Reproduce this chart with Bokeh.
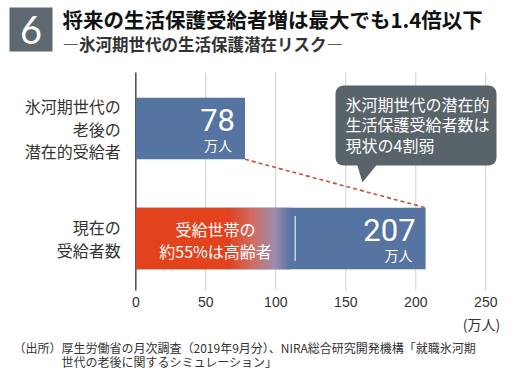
from bokeh.plotting import figure
from bokeh.models import (Range1d, FixedTicker, Label,
                          BoxAnnotation, PolyAnnotation, ColumnDataSource)
from bokeh.core.properties import value
from bokeh.embed import file_html
from bokeh.resources import INLINE

# ---------------- data ----------------
categories = ["氷河期世代の老後の潜在的受給者", "現在の受給者数"]
category_lines = [["氷河期世代の", "老後の", "潜在的受給者"], ["現在の", "受給者数"]]
values = [78, 207]                       # 万人
elderly_share = 0.55                     # 受給世帯の約55%は高齢者
elderly_lines = ["受給世帯の", "約55%は高齢者"]
x_ticks = [0, 50, 100, 150, 200, 250]
unit_label = "万人"
title_number = "6"
title = "将来の生活保護受給者増は最大でも1.4倍以下"
subtitle = "―氷河期世代の生活保護潜在リスク―"
callout_lines = ["氷河期世代の潜在的", "生活保護受給者数は", "現状の4割弱"]
source_head = "（出所）"
source_lines = ["厚生労働省の月次調査（2019年9月分）、NIRA総合研究開発機構「就職氷河期",
                "世代の老後に関するシミュレーション」"]

# ---------------- layout / style ----------------
BLUE = "#5574a2"
GRAY_BOX = "#5e6870"
CALLOUT = "#59636a"
TEXT = "#333333"
JP = "Noto Sans CJK JP"
FRAME_W, FRAME_H = 520, 370
ZERO_PX, PX_PER_UNIT = 135.3, 1.4        # x scale placement
TOP_CAT_PY, PX_PER_CAT = 128.0, 110.0    # y scale placement (top category centre)
BAR_H = 0.56
n_cat = len(categories)

def X(px):
    return (px - ZERO_PX) / PX_PER_UNIT

def Y(py):
    return (n_cat - 1) + (TOP_CAT_PY - py) / PX_PER_CAT

def SY(py):  # screen units (frame bottom-left origin)
    return FRAME_H - py

ypos = [n_cat - 1 - i for i in range(n_cat)]   # first category on top

p = figure(frame_width=FRAME_W, frame_height=FRAME_H, output_backend="svg",
           toolbar_location=None, x_range=Range1d(X(0), X(FRAME_W)),
           y_range=Range1d(Y(FRAME_H), Y(0)), y_axis_location=None, min_border=0)
p.outline_line_color = None
p.background_fill_color = "white"
p.border_fill_color = "white"
p.grid.grid_line_color = None

# x axis drawn inside the frame at the bottom of the chart area
p.xaxis.fixed_location = Y(294)
p.xaxis.ticker = FixedTicker(ticks=x_ticks)
p.xaxis.axis_line_color = None
p.xaxis.major_tick_line_color = None
p.xaxis.minor_tick_line_color = None
p.xaxis.major_tick_out = 0
p.xaxis.major_tick_in = 0
p.xaxis.major_label_standoff = 2
p.xaxis.major_label_text_font = "Liberation Sans"
p.xaxis.major_label_text_font_size = "14px"
p.xaxis.major_label_text_color = TEXT

grid_top, grid_bottom = Y(72), Y(290)
p.segment(x0=x_ticks[1:], x1=x_ticks[1:], y0=[grid_bottom] * (len(x_ticks) - 1),
          y1=[grid_top] * (len(x_ticks) - 1), line_color="#cfcfcf", line_width=1)
p.segment(x0=[0], x1=[0], y0=[grid_bottom], y1=[grid_top], line_color="#555555", line_width=1.6)

# bars
src = ColumnDataSource(dict(cat=categories, y=ypos, val=values,
                            t=[unit_label] * n_cat))
p.hbar(y="y", left=0, right="val", height=BAR_H, source=src,
       fill_color=BLUE, line_color=None)

# red (elderly) part with gradient fading into blue
elderly = values[1] * elderly_share
solid_end = elderly * 0.58
fade_end = elderly * 0.97
stops = [(0.0, (226, 66, 28)), (0.4, (210, 110, 100)), (0.75, (160, 140, 175)), (1.0, (85, 116, 162))]

def grad(t):
    for (t0, c0), (t1, c1) in zip(stops[:-1], stops[1:]):
        if t0 <= t <= t1:
            f = (t - t0) / (t1 - t0)
            return "#%02x%02x%02x" % tuple(int(round(a + (b - a) * f)) for a, b in zip(c0, c1))
    return "#%02x%02x%02x" % stops[-1][1]

n = 40
step = (fade_end - solid_end) / n
lefts = [0] + [solid_end + i * step for i in range(n)]
rights = [solid_end + 0.3] + [solid_end + (i + 1) * step + 0.3 for i in range(n)]
cols = [grad(0)] + [grad((i + 0.5) / n) for i in range(n)]
gsrc = ColumnDataSource(dict(l=lefts, r=rights, c=cols, y=[ypos[1]] * len(lefts)))
p.hbar(y="y", left="l", right="r", height=BAR_H, fill_color="c", line_color=None, source=gsrc)

# divider line at the elderly share
p.rect(x=[elderly], y=[ypos[1]], width=1.2, width_units="screen", height=0.41,
       fill_color="white", fill_alpha=0.85, line_color=None)

# elderly text
el_src = ColumnDataSource(dict(x=[elderly / 2] * 2, y=[ypos[1]] * 2, t=elderly_lines,
                               off=[-10, 12]))
p.text(x="x", y="y", text="t", y_offset="off", source=el_src, text_align="center",
       text_baseline="middle", text_color="white", text_font=value(JP),
       text_font_size="16px")

# value labels
p.text(x="val", y="y", text="val", source=src, x_offset=-10, y_offset=-9,
       text_align="right", text_baseline="middle", text_color="white",
       text_font=value("Roboto"), text_font_size="31px")
p.text(x="val", y="y", text="t", source=src, x_offset=-13, y_offset=16,
       text_align="right", text_baseline="middle", text_color="white",
       text_font=value(JP), text_font_size="14px")

# dashed connector from bottom of first bar end to top of second bar end
p.segment(x0=[values[0]], y0=[ypos[0] - BAR_H / 2], x1=[values[1]], y1=[ypos[1] + BAR_H / 2],
          line_color="#c4513d", line_width=1.6, line_dash="4 3")

# category labels
cl_y, cl_txt, cl_off = [], [], []
for yy, lines in zip(ypos, category_lines):
    nl = len(lines)
    for i, t in enumerate(lines):
        cl_y.append(yy)
        cl_txt.append(t)
        cl_off.append((i - (nl - 1) / 2) * 22.5)
cl_src = ColumnDataSource(dict(y=cl_y, t=cl_txt, off=cl_off, x=[0] * len(cl_y)))
p.text(x="x", y="y", text="t", y_offset="off", x_offset=-15, source=cl_src,
       text_align="right", text_baseline="middle", text_color=TEXT,
       text_font=value(JP), text_font_size="16px")

# ---------------- annotations (screen units) ----------------
def box(l, r, t, b, color, **kw):
    return BoxAnnotation(left=l, right=r, top=SY(t), bottom=SY(b),
                         left_units="screen", right_units="screen",
                         top_units="screen", bottom_units="screen",
                         fill_color=color, fill_alpha=1, line_color=None, **kw)

def label(x, y, text, **kw):
    opts = dict(text_align="left", text_baseline="middle", text_color=TEXT,
                text_font=JP, text_font_size="16px")
    opts.update(kw)
    return Label(x=x, y=SY(y), x_units="screen", y_units="screen", text=text, **opts)

p.add_layout(box(9, 52, 7, 51, GRAY_BOX))
p.add_layout(label(30.5, 29, title_number, text_align="center", text_color="white",
                   text_font="Lato", text_font_size="38px"))
p.add_layout(label(62, 18, title, text_color="#111111", text_font_style="bold",
                   text_font_size="20.5px"))
p.add_layout(label(62, 43, subtitle, text_font_style="bold", text_font_size="16.5px"))

# callout
p.add_layout(box(335, 496, 85, 165, CALLOUT, border_radius=8))
p.add_layout(PolyAnnotation(xs=[356, 378, 362], ys=[SY(162), SY(162), SY(182)],
                            xs_units="screen", ys_units="screen",
                            fill_color=CALLOUT, fill_alpha=1, line_color=None))
for t, yy in zip(callout_lines, [103, 123, 144]):
    p.add_layout(label(345, yy, t, text_color="white"))

# unit and source
p.add_layout(label(481, 323, "(" + unit_label + ")", text_align="center", text_font_size="14px"))
p.add_layout(label(13, 347, source_head, text_font_size="12px"))
for t, yy in zip(source_lines, [347, 361]):
    p.add_layout(label(61, yy, t, text_font_size="12px"))

open("out.html", "w").write(file_html(p, INLINE))
